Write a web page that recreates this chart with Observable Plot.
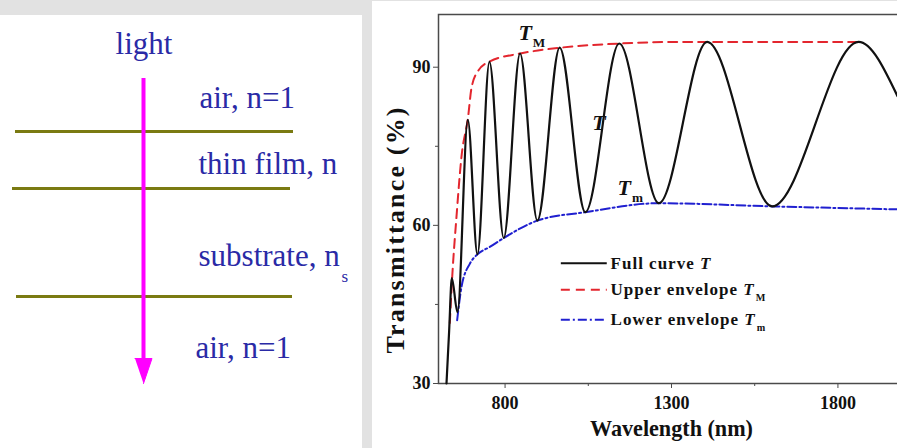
<!DOCTYPE html>
<html><head><meta charset="utf-8">
<script src="https://cdn.jsdelivr.net/npm/d3@7"></script>
<script src="https://cdn.jsdelivr.net/npm/@observablehq/plot@0.6"></script>
<style>
html,body{margin:0;padding:0;overflow:hidden;}
body{width:897px;height:448px;background:#e2e2e2;position:relative;}
#leftbg{position:absolute;left:0;top:15px;width:362px;height:433px;background:#fff;}
#rightbg{position:absolute;left:372px;top:1px;width:525px;height:447px;background:#fff;}
#diagram{position:absolute;left:0;top:15px;width:362px;}
#chart{position:absolute;left:372px;top:0;width:542px;}
svg{max-width:none !important;}
</style></head><body>
<div id="leftbg"></div><div id="rightbg"></div>
<div id="diagram"></div><div id="chart"></div>
<script>
// ---- chart data ----
const fullWavelength = [624, 632, 640, 657, 688, 717, 753, 796, 845, 897, 964, 1041, 1143, 1262, 1407, 1602, 1862, 1979];
const fullT          = [30, 40, 50.0, 43.5, 80.0, 54.5, 91.0, 57.6, 92.6, 60.9, 93.7, 62.5, 94.5, 64.2, 94.8, 63.6, 94.8, 84.5];
const upperWavelength = [634, 641, 654, 669, 689, 699, 719, 754, 846, 966, 1147, 1327, 1862];
const upperT          = [41.5, 50, 61.6, 73, 80.6, 86, 89.3, 91.1, 92.6, 93.7, 94.5, 94.8, 94.8];
const lowerWavelength = [656, 669, 694, 717, 754, 796, 897, 1041, 1262, 1602, 2000];
const lowerT          = [42.0, 48.3, 52.7, 54.5, 55.9, 57.6, 60.9, 62.5, 64.2, 63.6, 63.0];
const xTicks = [800, 1300, 1800];
const xMinorTicks = [1050, 1550];
const yTicks = [30, 60, 90];
const yMinorTicks = [45, 75];
const legendLabels = ["Full curve *T*", "Upper envelope *T*_M", "Lower envelope *T*_m"];
const annotationLabels = ["*T*_M", "*T*", "*T*_m"];
const xLabel = "Wavelength (nm)";
const yLabel = "Transmittance (%)";

// ---- diagram data ----
const lightLabel = "light";
const layerLabels = ["air, n=1", "thin film, n", "substrate, n", "air, n=1"];
const substrateSub = "s";

// ---- positions & styles ----
const legendSampleX = [969, 1107], legendTextX = 1117, legendY = [52.8, 47.8, 42.1];
const annotationPos = [[840, 95.1], [1062, 78.0], [1138, 65.7]];
const seriesStyle = [
  {stroke: "#111", dash: null},
  {stroke: "#e3262e", dash: "9,6"},
  {stroke: "#2020d0", dash: "9,3,2,3"}
];
const layerLabelPos = [[199, 107], [198, 173], [198, 265], [195, 357]];
const interfacePos = [{y: 131, x1: 15, x2: 293}, {y: 188, x1: 12, x2: 290}, {y: 296, x1: 16, x2: 292}];
const beam = {x: 143, y1: 78, tip: 383, headLen: 25, headHalf: 8.5};
const serif = "'Liberation Serif', 'Times New Roman', serif";
const textBlue = "#2a2aa6";

const zip = (xs, ys) => xs.map((x, i) => ({x, y: ys[i]}));
const full = zip(fullWavelength, fullT);
const upper = zip(upperWavelength, upperT);
const lower = zip(lowerWavelength, lowerT);
const legend = legendLabels.map((label, i) => ({label, y: legendY[i], ...seriesStyle[i]}));

const chart = Plot.plot({
  width: 542, height: 448,
  marginLeft: 66, marginRight: 10, marginTop: 14, marginBottom: 65,
  style: {fontFamily: serif, fontWeight: "bold", fontSize: "18px", color: "#111", background: "transparent", overflow: "visible"},
  x: {domain: [600, 2000]},
  y: {domain: [30, 100]},
  marks: [
    Plot.frame({stroke: "#4a4a4a", strokeWidth: 1.5}),
    Plot.axisX(xTicks, {tickSize: 5, tickPadding: 8, label: null, stroke: "#4a4a4a", fontSize: 18, tickFormat: d => String(d)}),
    Plot.axisX(xMinorTicks, {tickSize: 3, tickFormat: () => "", label: null, stroke: "#4a4a4a"}),
    Plot.axisY(yTicks, {tickSize: 5, tickPadding: 3, label: null, stroke: "#4a4a4a", fontSize: 18, tickFormat: d => String(d)}),
    Plot.axisY(yMinorTicks, {tickSize: 3, tickFormat: () => "", label: null, stroke: "#4a4a4a"}),
    Plot.line(upper, {x: "x", y: "y", stroke: seriesStyle[1].stroke, strokeWidth: 2, strokeDasharray: seriesStyle[1].dash, curve: "monotone-x"}),
    Plot.line(lower, {x: "x", y: "y", stroke: seriesStyle[2].stroke, strokeWidth: 2, strokeDasharray: seriesStyle[2].dash, curve: "monotone-x"}),
    Plot.line(full, {x: "x", y: "y", stroke: seriesStyle[0].stroke, strokeWidth: 2.2, curve: "monotone-x"}),
    ...legend.map(d => Plot.ruleY([d], {y: "y", x1: legendSampleX[0], x2: legendSampleX[1], stroke: d.stroke, strokeWidth: 2, strokeDasharray: d.dash})),
    Plot.text(legend, {x: legendTextX, y: "y", text: "label", textAnchor: "start", fontSize: 17, fill: "#111"}),
    Plot.text(annotationLabels, {x: (d, i) => annotationPos[i][0], y: (d, i) => annotationPos[i][1], text: d => d, textAnchor: "start", lineAnchor: "bottom", fontSize: 22, fill: "#111"}),
    Plot.text([xLabel], {frameAnchor: "bottom", dy: 52, text: d => d, lineAnchor: "bottom", fontSize: 23, fill: "#111"}),
    Plot.text([yLabel], {frameAnchor: "left", dx: -43, dy: 154.5, rotate: -90, text: d => d, textAnchor: "start", lineAnchor: "middle", fontSize: 26, fill: "#111"})
  ]
});

function richText(svg) {
  d3.select(svg).selectAll("text").each(function() {
    const s = this.textContent;
    if (s === yLabel) { this.setAttribute("textLength", 246); this.setAttribute("lengthAdjust", "spacing"); return; }
    if (s === xLabel) { this.setAttribute("textLength", 163); this.setAttribute("lengthAdjust", "spacingAndGlyphs"); return; }
    const m = s.match(/^(.*?)\*(.+?)\*(?:_(.+))?$/);
    if (!m) return;
    const fs = parseFloat(getComputedStyle(this).fontSize) || 18;
    this.textContent = "";
    const t = d3.select(this);
    if (m[1]) { t.append("tspan").text(m[1]); t.style("letter-spacing", "1px"); }
    t.append("tspan").attr("font-style", "italic").text(m[2]);
    if (m[3]) t.append("tspan").style("font-size", (fs * 0.6) + "px").attr("dy", (fs * 0.32) + "px").attr("dx", "1px").text(m[3]);
  });
}
document.getElementById("chart").append(chart);
richText(chart);

// ---- diagram ----
const headPts = [
  {x: beam.x - beam.headHalf, y: beam.tip - beam.headLen},
  {x: beam.x + beam.headHalf, y: beam.tip - beam.headLen},
  {x: beam.x, y: beam.tip}
];
const diagram = Plot.plot({
  width: 362, height: 433, margin: 0,
  x: {domain: [0, 362], range: [0, 362], axis: null},
  y: {domain: [15, 448], range: [0, 433], axis: null},
  style: {fontFamily: serif, background: "transparent", overflow: "visible"},
  marks: [
    Plot.ruleY(interfacePos, {y: "y", x1: "x1", x2: "x2", stroke: "#7a7a12", strokeWidth: 3}),
    Plot.ruleX([beam], {x: "x", y1: "y1", y2: d => d.tip - d.headLen + 2, stroke: "#ff00ff", strokeWidth: 4}),
    Plot.line(headPts, {x: "x", y: "y", fill: "#ff00ff", stroke: "#ff00ff", strokeWidth: 1}),
    Plot.text([lightLabel], {x: beam.x + 0.5, y: 53, text: d => d, lineAnchor: "bottom", textAnchor: "middle", fontSize: 31, fill: textBlue}),
    Plot.text(layerLabels, {x: (d, i) => layerLabelPos[i][0], y: (d, i) => layerLabelPos[i][1], text: d => d, lineAnchor: "bottom", textAnchor: "start", fontSize: 31, fill: textBlue}),
    Plot.text([substrateSub], {x: 341, y: 281, text: d => d, lineAnchor: "bottom", textAnchor: "start", fontSize: 17, fill: textBlue})
  ]
});
document.getElementById("diagram").append(diagram);
</script>
</body></html>
